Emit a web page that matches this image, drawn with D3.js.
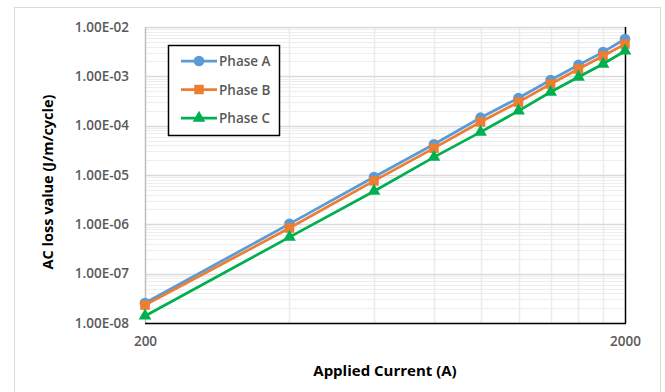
<!DOCTYPE html>
<html>
<head>
<meta charset="utf-8">
<script src="https://cdn.jsdelivr.net/npm/d3@7"></script>
<style>
  body { margin: 0; background: #fff; }
  svg text { font-family: "Open Sans", Lato, sans-serif; }
</style>
</head>
<body>
<svg id="chart" width="665" height="392"></svg>
<script>
const currents = [200, 400, 600, 800, 1000, 1200, 1400, 1600, 1800, 2000];
const phaseA = [2.54e-8, 1.02e-6, 9.1e-6, 4.2e-5, 1.45e-4, 3.64e-4, 8.4e-4, 1.7e-3, 3.1e-3, 5.7e-3];
const phaseB = [2.3e-8, 8.4e-7, 7.6e-6, 3.5e-5, 1.19e-4, 3.0e-4, 7.0e-4, 1.41e-3, 2.59e-3, 4.5e-3];
const phaseC = [1.39e-8, 5.5e-7, 4.7e-6, 2.3e-5, 7.4e-5, 1.99e-4, 4.8e-4, 9.7e-4, 1.78e-3, 3.27e-3];
const yTicks = [1e-8, 1e-7, 1e-6, 1e-5, 1e-4, 1e-3, 1e-2];
const xTicks = [200, 2000];

const series = [
    { name: "Phase A", values: phaseA, color: "#5B9BD5", shape: d3.symbolCircle, size: 90 },
    { name: "Phase B", values: phaseB, color: "#ED7D31", shape: d3.symbolSquare, size: 90 },
    { name: "Phase C", values: phaseC, color: "#00B050", shape: d3.symbolTriangle, size: 70 }
];

const svg = d3.select("#chart");
const plotLeft = 145, plotRight = 625, plotTop = 27, plotBottom = 323;

// outer chart border
svg.append("rect")
    .attr("x", 14.5).attr("y", 7.5)
    .attr("width", 646).attr("height", 400)
    .attr("fill", "#fff").attr("stroke", "#d9d9d9");

const x = d3.scaleLog().domain([200, 2000]).range([plotLeft, plotRight]);
const y = d3.scaleLog().domain([1e-8, 1e-2]).range([plotBottom, plotTop]);

// minor horizontal grid
const minorY = [];
for (let e = -8; e < -2; e++) {
    for (let m = 2; m <= 9; m++) minorY.push(m * Math.pow(10, e));
}
svg.append("g").selectAll("line")
    .data(minorY).enter().append("line")
    .attr("x1", plotLeft).attr("x2", plotRight)
    .attr("y1", d => Math.round(y(d)) + 0.5).attr("y2", d => Math.round(y(d)) + 0.5)
    .attr("stroke", "#eeeeee").attr("stroke-width", 1);

// vertical minor grid
const minorX = d3.range(400, 2000, 200);
svg.append("g").selectAll("line")
    .data(minorX).enter().append("line")
    .attr("x1", d => Math.round(x(d)) + 0.5).attr("x2", d => Math.round(x(d)) + 0.5)
    .attr("y1", plotTop).attr("y2", plotBottom)
    .attr("stroke", "#ececec").attr("stroke-width", 1.5);

// major horizontal grid
svg.append("g").selectAll("line")
    .data(yTicks).enter().append("line")
    .attr("x1", plotLeft).attr("x2", plotRight)
    .attr("y1", d => Math.round(y(d)) + 0.5).attr("y2", d => Math.round(y(d)) + 0.5)
    .attr("stroke", "#d9d9d9").attr("stroke-width", 1.5);

// axis lines
svg.append("line").attr("x1", plotLeft + 0.5).attr("x2", plotLeft + 0.5)
    .attr("y1", plotTop).attr("y2", plotBottom)
    .attr("stroke", "#bfbfbf").attr("stroke-width", 1.5);
svg.append("line").attr("x1", plotLeft).attr("x2", plotRight + 1)
    .attr("y1", plotBottom + 0.5).attr("y2", plotBottom + 0.5)
    .attr("stroke", "#000").attr("stroke-width", 1.5);
svg.append("line").attr("x1", plotRight + 0.5).attr("x2", plotRight + 0.5)
    .attr("y1", plotTop).attr("y2", plotBottom)
    .attr("stroke", "#000").attr("stroke-width", 1.5);

// axes labels through d3 axes
const yAxis = svg.append("g")
    .attr("transform", `translate(${plotLeft},0)`)
    .call(d3.axisLeft(y).tickValues(yTicks).tickSize(0).tickPadding(16)
        .tickFormat(d => d.toExponential(2).toUpperCase().replace(/E([+-])(\d)$/, "E$10$2")));
yAxis.select(".domain").remove();
yAxis.selectAll("text").attr("font-size", 13.5).attr("fill", "#595959")
    .attr("font-family", "'Open Sans', sans-serif").attr("font-weight", 600);

const xAxis = svg.append("g")
    .attr("transform", `translate(0,${plotBottom})`)
    .call(d3.axisBottom(x).tickValues(xTicks).tickSize(0).tickPadding(13).tickFormat(d3.format("d")));
xAxis.select(".domain").remove();
xAxis.selectAll("text").attr("font-size", 13.5).attr("fill", "#595959")
    .attr("font-family", "'Open Sans', sans-serif").attr("font-weight", 600);

// titles
svg.append("text")
    .attr("x", 385).attr("y", 376)
    .attr("text-anchor", "middle")
    .attr("font-size", 15).attr("font-weight", "bold").attr("fill", "#000")
    .text("Applied Current (A)");
svg.append("text")
    .attr("transform", "translate(53,182) rotate(-90)")
    .attr("text-anchor", "middle")
    .attr("font-size", 14.5).attr("font-weight", "bold").attr("fill", "#000")
    .text("AC loss value (J/m/cycle)");

// lines and markers
const line = d3.line().x((d, i) => x(currents[i])).y(d => y(d));
series.forEach(s => {
    svg.append("path")
        .attr("d", line(s.values))
        .attr("fill", "none").attr("stroke", s.color).attr("stroke-width", 2.75);
    svg.append("g").selectAll("path")
        .data(s.values).enter().append("path")
        .attr("transform", (d, i) => `translate(${x(currents[i])},${y(d)})`)
        .attr("d", d3.symbol().type(s.shape).size(s.size))
        .attr("fill", s.color);
});

// legend
const legend = svg.append("g");
legend.append("rect")
    .attr("x", 168.5).attr("y", 45.5).attr("width", 111).attr("height", 90)
    .attr("fill", "#fff").attr("stroke", "#000").attr("stroke-width", 1.5);
series.forEach((s, i) => {
    const ly = 61 + i * 28.5;
    legend.append("line").attr("x1", 181).attr("x2", 217)
        .attr("y1", ly).attr("y2", ly)
        .attr("stroke", s.color).attr("stroke-width", 2.75);
    legend.append("path")
        .attr("transform", `translate(199,${ly})`)
        .attr("d", d3.symbol().type(s.shape).size(s.size))
        .attr("fill", s.color);
    legend.append("text")
        .attr("x", 219).attr("y", ly + 5)
        .attr("font-size", 13.5).attr("font-weight", 600).attr("fill", "#595959")
        .text(s.name);
});
</script>
</body>
</html>
